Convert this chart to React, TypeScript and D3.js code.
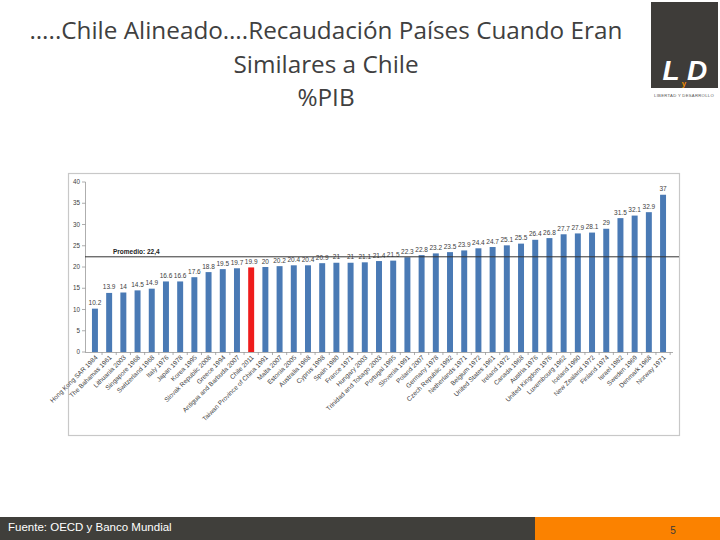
import React from "react";
import * as d3 from "d3";

const countries = [
  "Hong Kong SAR 1984", "The Bahamas 1961", "Lithuania 2003", "Singapore 1968", "Switzerland 1968",
  "Italy 1976", "Japan 1978", "Korea 1995", "Slovak Republic 2008", "Greece 1994",
  "Antigua and Barbuda 2007", "Chile 2011", "Taiwan Province of China 1991", "Malta 2007", "Estonia 2005",
  "Australia 1968", "Cyprus 1998", "Spain 1980", "France 1971", "Hungary 2003",
  "Trinidad and Tobago 2003", "Portugal 1995", "Slovenia 1991", "Poland 2007", "Germany 1978",
  "Czech Republic 1992", "Netherlands 1971", "Belgium 1972", "United States 1961", "Ireland 1972",
  "Canada 1968", "Austria 1976", "United Kingdom 1976", "Luxembourg 1962", "Iceland 1990",
  "New Zealand 1972", "Finland 1974", "Israel 1982", "Sweden 1969", "Denmark 1968", "Norway 1971",
];
const values = [
  10.2, 13.9, 14, 14.5, 14.9, 16.6, 16.6, 17.6, 18.8, 19.5,
  19.7, 19.9, 20, 20.2, 20.4, 20.4, 20.9, 21, 21, 21.1,
  21.4, 21.5, 22.3, 22.8, 23.2, 23.5, 23.9, 24.4, 24.7, 25.1,
  25.5, 26.4, 26.8, 27.7, 27.9, 28.1, 29, 31.5, 32.1, 32.9, 37,
];
const highlight = "Chile 2011";
const average = 22.4;
const averageLabel = "Promedio: 22,4";
const yTicks = [0, 5, 10, 15, 20, 25, 30, 35, 40];
const titleLines = ["…..Chile Alineado….Recaudación Países Cuando Eran", "Similares a Chile", "%PIB"];
const source = "Fuente: OECD y Banco Mundial";
const pageNumber = "5";

export default function App() {
  const x = d3.scaleBand<string>().domain(countries).range([85, 673]).paddingInner(0.58).paddingOuter(0.49);
  const y = d3.scaleLinear().domain([0, 40]).range([352, 182]);
  const fmt = (v: number) => String(v);
  const textCol = "#404040";
  return (
    <svg width={720} height={540} style={{ position: "absolute", left: 0, top: 0 }}>
      <rect x={0} y={0} width={720} height={540} fill="#ffffff" />
      {/* Title */}
      {titleLines.map((t, i) => (
        <text key={i} x={326} y={39 + i * 33.5} textAnchor="middle" fontFamily="'Open Sans', sans-serif"
          fontSize={24.3} fill={textCol}>{t}</text>
      ))}
      {/* Logo */}
      <rect x={651} y={2} width={67} height={86} fill="#3e3c39" />
      <text x={671} y={80} textAnchor="middle" fontFamily="'Liberation Sans', sans-serif" fontWeight="bold"
        fontStyle="italic" fontSize={28} fill="#ffffff">L</text>
      <text x={697} y={80} textAnchor="middle" fontFamily="'Liberation Sans', sans-serif" fontWeight="bold"
        fontStyle="italic" fontSize={28} fill="#ffffff">D</text>
      <text x={684} y={86} textAnchor="middle" fontFamily="'Liberation Sans', sans-serif" fontWeight="bold"
        fontSize={8} fill="#f08a00">y</text>
      <text x={684} y={97} textAnchor="middle" fontFamily="'Liberation Sans', sans-serif" fontSize={4.2}
        fill="#555" letterSpacing={0.3}>LIBERTAD Y DESARROLLO</text>

      {/* Chart frame */}
      <rect x={68.5} y={173.5} width={611} height={262} fill="#ffffff" stroke="#c8c8c8" strokeWidth={1.2} />

      {/* Y axis */}
      <line x1={85.5} x2={85.5} y1={y(40)} y2={y(0)} stroke="#999" strokeWidth={0.8} />
      {yTicks.map((t) => (
        <g key={t}>
          <line x1={82} x2={85.5} y1={y(t)} y2={y(t)} stroke="#999" strokeWidth={0.8} />
          <text x={80} y={y(t) + 2.2} textAnchor="end" fontFamily="'Liberation Sans', sans-serif" fontSize={6.3}
            fill={textCol}>{t}</text>
        </g>
      ))}
      {/* X axis */}
      <line x1={85} x2={673} y1={y(0) + 0.5} y2={y(0) + 0.5} stroke="#999" strokeWidth={0.8} />
      {countries.map((c) => (
        <line key={"t" + c} x1={(x(c) as number) + x.bandwidth() / 2 + x.step() / 2} x2={(x(c) as number) + x.bandwidth() / 2 + x.step() / 2}
          y1={y(0)} y2={y(0) + 3} stroke="#999" strokeWidth={0.8} />
      ))}

      {/* Bars */}
      {countries.map((c, i) => (
        <rect key={c} x={x(c)} y={y(values[i])} width={x.bandwidth()} height={y(0) - y(values[i])}
          fill={c === highlight ? "#ee1c1c" : "#4a7ab5"} />
      ))}
      {/* Value labels */}
      {countries.map((c, i) => (
        <text key={"v" + c} x={(x(c) as number) + x.bandwidth() / 2} y={y(values[i]) - 3.5} textAnchor="middle"
          fontFamily="'Liberation Sans', sans-serif" fontSize={6.5} fill={textCol}>{fmt(values[i])}</text>
      ))}
      {/* Category labels */}
      {countries.map((c) => {
        const cx = (x(c) as number) + x.bandwidth() / 2 + 3;
        const cy = y(0) + 6;
        return (
          <text key={"l" + c} x={cx} y={cy} transform={`rotate(-45 ${cx} ${cy})`} textAnchor="end"
            fontFamily="'Liberation Sans', sans-serif" fontSize={6.5} fill={textCol}>{c}</text>
        );
      })}

      {/* Average line */}
      <line x1={85} x2={679} y1={y(average)} y2={y(average)} stroke="#333" strokeWidth={1} />
      <text x={113} y={y(average) - 3} fontFamily="'Liberation Sans', sans-serif" fontWeight="bold" fontSize={6.5}
        fill="#222">{averageLabel}</text>

      {/* Footer */}
      <rect x={0} y={517} width={535} height={23} fill="#403f3b" />
      <rect x={535} y={517} width={185} height={23} fill="#fb8200" />
      <text x={8} y={531} fontFamily="'Liberation Sans', sans-serif" fontSize={11.5} fill="#ffffff">{source}</text>
      <text x={673} y={534} textAnchor="middle" fontFamily="'Liberation Sans', sans-serif" fontSize={10}
        fill="#3a3a3a">{pageNumber}</text>
    </svg>
  );
}
